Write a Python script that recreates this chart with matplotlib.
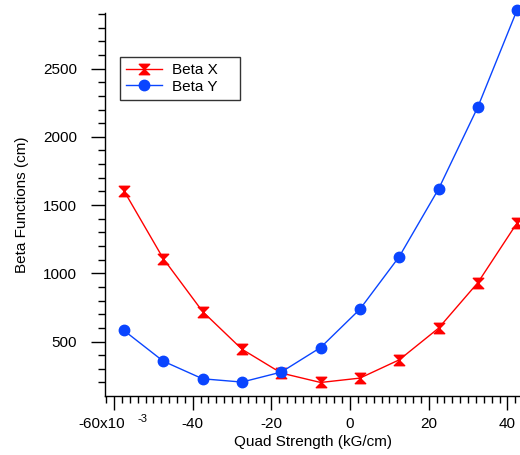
import numpy as np
import matplotlib
matplotlib.use('Agg')
import matplotlib.pyplot as plt
from matplotlib.path import Path
from matplotlib.ticker import MultipleLocator

# Quad strength in kG/cm (x10^-3)
quad = [-57.5, -47.5, -37.5, -27.5, -17.5, -7.5, 2.5, 12.5, 22.5, 32.5, 42.5]
beta_x = [1605, 1108, 720, 444, 269, 200, 232, 366, 598, 932, 1371]
beta_y = [581, 356, 227, 203, 276, 456, 737, 1122, 1618, 2220, 2933]

xticks = [-60, -40, -20, 0, 20, 40]
xticklabels = ['', '-40', '-20', '0', '20', '40']
yticks = [500, 1000, 1500, 2000, 2500]

plt.rcParams['font.family'] = ['Liberation Sans', 'DejaVu Sans']
plt.rcParams['font.size'] = 11

# hourglass marker
hourglass = Path([(-1, 1), (1, 1), (0, 0), (-1, -1), (1, -1), (0, 0), (-1, 1)],
                 [Path.MOVETO, Path.LINETO, Path.LINETO, Path.LINETO,
                  Path.LINETO, Path.LINETO, Path.CLOSEPOLY])

fig = plt.figure(figsize=(5.2, 4.55), dpi=100)
ax = fig.add_axes([0.202, 0.13, 0.798, 0.841])

red = '#ff0000'
blue = '#0a45ff'
ax.plot(quad, beta_x, color=red, lw=1, marker=hourglass, ms=7.5,
        mec=red, mfc=red, label='Beta X    ', clip_on=False)
ax.plot(quad, beta_y, color=blue, lw=1, marker='o', ms=7.5,
        mec=blue, mfc=blue, label='Beta Y    ', clip_on=False)

ax.set_xlim(-62.3, 43.2)
ax.set_ylim(102, 2906)

for s in ['top', 'right']:
    ax.spines[s].set_visible(False)
ax.spines['left'].set_linewidth(1)
ax.spines['bottom'].set_linewidth(1)

ax.set_xticks(xticks)
ax.set_xticklabels(xticklabels)
ax.xaxis.set_minor_locator(MultipleLocator(2))
ax.set_yticks(yticks)
ax.yaxis.set_minor_locator(MultipleLocator(100))
ax.tick_params(axis='x', which='major', length=10, width=1, pad=5)
ax.tick_params(axis='x', which='minor', length=5, width=1)
ax.tick_params(axis='y', which='major', length=10, width=1, pad=10)
ax.tick_params(axis='y', which='minor', length=5, width=1)

# first tick label with exponent, Igor style
trans = ax.get_xaxis_transform()
ax.annotate('-60x10', xy=(-60, 0), xycoords=trans, xytext=(8, -15.5),
            textcoords='offset points', ha='right', va='top')
ax.annotate('-3', xy=(-60, 0), xycoords=trans, xytext=(16.5, -13),
            textcoords='offset points', ha='left', va='top', fontsize=8)

ax.set_xlabel('Quad Strength (kG/cm)', labelpad=3)
ax.set_ylabel('Beta Functions (cm)', labelpad=10)

leg = ax.legend(loc='upper left', bbox_to_anchor=(0.035, 0.885), frameon=True,
                fancybox=False, edgecolor='black', handlelength=2.4,
                borderpad=0.4, labelspacing=0.15, handletextpad=0.6,
                borderaxespad=0)
leg.get_frame().set_linewidth(1)

fig.savefig('out.png', dpi=100)
